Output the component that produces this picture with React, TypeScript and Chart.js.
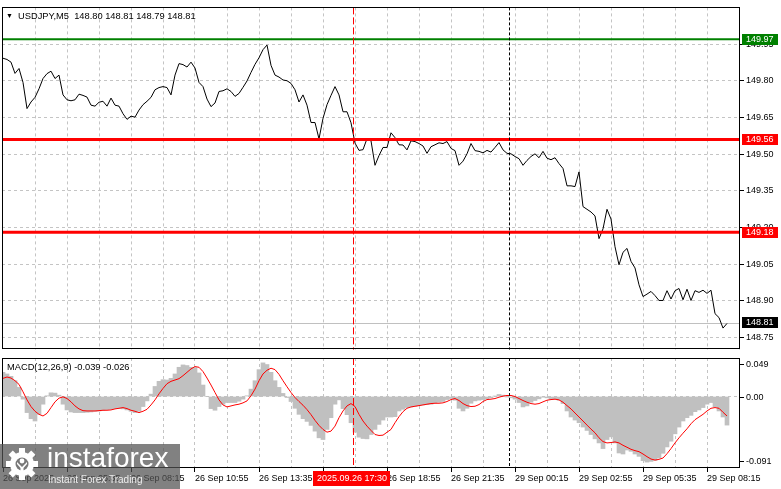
import React, { useEffect, useRef } from "react";
import { Chart, registerables } from "chart.js";

Chart.register(...registerables);

// ---------------- data ----------------
const symbolTitle = "USDJPY,M5  148.80 148.81 148.79 148.81";
const macdTitle = "MACD(12,26,9) -0.039 -0.026";

// one value every 2 bars (10 minutes); index 0 = first visible bar
const price: number[] = [
  149.892, 149.887, 149.876, 149.83, 149.85, 149.793, 149.686, 149.713, 149.732, 149.767,
  149.809, 149.829, 149.839, 149.809, 149.823, 149.742, 149.722, 149.718, 149.722, 149.745,
  149.74, 149.733, 149.7, 149.696, 149.712, 149.716, 149.696, 149.729, 149.7, 149.696,
  149.665, 149.642, 149.655, 149.651, 149.68, 149.702, 149.716, 149.732, 149.763, 149.772,
  149.776, 149.772, 149.742, 149.823, 149.87, 149.866, 149.856, 149.876, 149.852, 149.793,
  149.776, 149.725, 149.694, 149.709, 149.756, 149.759, 149.767, 149.756, 149.736, 149.748,
  149.773, 149.799, 149.834, 149.867, 149.894, 149.927, 149.946, 149.863, 149.823, 149.815,
  149.803, 149.8, 149.789, 149.763, 149.713, 149.742, 149.7, 149.629, 149.629, 149.562,
  149.646, 149.702, 149.74, 149.776, 149.742, 149.673, 149.673, 149.628, 149.545, 149.515,
  149.518, 149.563, 149.554, 149.454, 149.494, 149.527, 149.527, 149.587, 149.567, 149.538,
  149.537, 149.517, 149.554, 149.551, 149.543, 149.533, 149.503, 149.53, 149.538, 149.546,
  149.543, 149.551, 149.523, 149.514, 149.454, 149.471, 149.501, 149.543, 149.514, 149.511,
  149.505, 149.515, 149.508, 149.527, 149.547, 149.517, 149.503, 149.501, 149.49, 149.481,
  149.454, 149.474, 149.49, 149.501, 149.485, 149.511, 149.483, 149.477, 149.485, 149.461,
  149.441, 149.37, 149.37, 149.367, 149.427, 149.285, 149.274, 149.263, 149.247, 149.154,
  149.194, 149.274, 149.234, 149.121, 149.047, 149.098, 149.114, 149.061, 149.034, 148.965,
  148.917, 148.927, 148.938, 148.921, 148.901, 148.901, 148.941, 148.907, 148.941, 148.95,
  148.904, 148.947, 148.901, 148.941, 148.934, 148.943, 148.93, 148.943, 148.847, 148.831,
  148.788, 148.807,
];

const macdMain: number[] = [
  0.0308, 0.0287, 0.0257, 0.0201, 0.0116, -0.0034, -0.0205, -0.0282, -0.0312, -0.0227,
  -0.0098, 0.0009, 0.0047, 0.0043, 0.0017, -0.0098, -0.0171, -0.0197, -0.0205, -0.0205,
  -0.0205, -0.0201, -0.0197, -0.0188, -0.0184, -0.0175, -0.0167, -0.0163, -0.0154, -0.015,
  -0.0158, -0.0171, -0.0188, -0.0205, -0.0188, -0.0128, -0.0056, 0.003, 0.0128, 0.0193,
  0.0214, 0.021, 0.0231, 0.0287, 0.0372, 0.0402, 0.0394, 0.0372, 0.0368, 0.03,
  0.0146, 0.0, -0.0154, -0.0175, -0.0128, -0.0098, -0.0077, -0.0077, -0.0077, -0.006,
  -0.0034, 0.0009, 0.0094, 0.0201, 0.0342, 0.0428, 0.0407, 0.0308, 0.0201, 0.0116,
  0.0039, -0.0013, -0.0064, -0.015, -0.0227, -0.0282, -0.0317, -0.0368, -0.0441, -0.0526,
  -0.0548, -0.0419, -0.027, -0.0098, -0.0043, -0.0154, -0.0231, -0.0334, -0.0454, -0.0518,
  -0.0535, -0.0539, -0.0484, -0.0419, -0.0355, -0.03, -0.0261, -0.0261, -0.0257, -0.0184,
  -0.0163, -0.0141, -0.0133, -0.0124, -0.0116, -0.0107, -0.0103, -0.0098, -0.0081, -0.0073,
  -0.0064, -0.0039, -0.0026, -0.0047, -0.015, -0.0184, -0.015, -0.0086, -0.0056, -0.0047,
  -0.0039, -0.003, -0.0017, 0.0004, 0.0026, 0.0017, -0.0004, -0.0017, -0.0034, -0.0077,
  -0.0133, -0.012, -0.0073, -0.0051, -0.003, -0.0009, -0.0017, -0.0034, -0.0034, -0.0047,
  -0.009, -0.0184, -0.0261, -0.03, -0.0334, -0.0389, -0.0432, -0.0484, -0.0539, -0.0591,
  -0.0663, -0.0548, -0.0514, -0.0591, -0.0719, -0.0732, -0.0681, -0.0698, -0.0732, -0.0762,
  -0.0817, -0.0835, -0.0826, -0.0813, -0.0783, -0.0723, -0.0642, -0.0569, -0.0475, -0.0389,
  -0.0312, -0.027, -0.024, -0.0193, -0.0171, -0.0141, -0.0098, -0.0077, -0.0133, -0.0184,
  -0.0261, -0.0364,
];

const macdSignal: number[] = [
  0.0231, 0.0248, 0.0235, 0.0201, 0.0154, 0.006, -0.0043, -0.0128, -0.0188, -0.0227,
  -0.0248, -0.0214, -0.0141, -0.0068, -0.0021, -0.0004, -0.0026, -0.0068, -0.012, -0.0158,
  -0.018, -0.0184, -0.0184, -0.0184, -0.018, -0.0175, -0.0175, -0.0171, -0.0158, -0.015,
  -0.0141, -0.0154, -0.0175, -0.0188, -0.0205, -0.0188, -0.0163, -0.0107, -0.0043, 0.0034,
  0.0103, 0.0163, 0.0193, 0.021, 0.0227, 0.0265, 0.0308, 0.0351, 0.0381, 0.0372,
  0.0317, 0.0235, 0.0146, 0.0051, -0.0043, -0.0107, -0.0133, -0.012, -0.0107, -0.0098,
  -0.0081, -0.0056, 0.0009, 0.0094, 0.0201, 0.0287, 0.0334, 0.036, 0.0342, 0.0282,
  0.0201, 0.0124, 0.0051, -0.0013, -0.0064, -0.0111, -0.0167, -0.0231, -0.0304, -0.0368,
  -0.0419, -0.0454, -0.0441, -0.0377, -0.027, -0.0184, -0.012, -0.009, -0.0128, -0.0227,
  -0.0312, -0.0377, -0.0432, -0.0484, -0.0496, -0.0492, -0.0455, -0.0419, -0.0334, -0.0257,
  -0.0193, -0.015, -0.0133, -0.0124, -0.0116, -0.0107, -0.0098, -0.009, -0.0086, -0.0086,
  -0.0081, -0.0064, -0.0039, -0.0026, -0.0051, -0.009, -0.0116, -0.0128, -0.0124, -0.0103,
  -0.0064, -0.0039, -0.0034, -0.0026, -0.0009, 0.0004, 0.0013, 0.0013, 0.0, -0.0026,
  -0.0051, -0.0073, -0.009, -0.0098, -0.009, -0.0068, -0.0047, -0.0039, -0.0034, -0.0043,
  -0.0073, -0.0116, -0.0158, -0.021, -0.0261, -0.0312, -0.0364, -0.0415, -0.0462, -0.0526,
  -0.0574, -0.0591, -0.0586, -0.0578, -0.0591, -0.0621, -0.0646, -0.0672, -0.0689, -0.0702,
  -0.0732, -0.0766, -0.0796, -0.0809, -0.08, -0.0783, -0.0728, -0.0663, -0.0591, -0.0526,
  -0.0467, -0.0411, -0.0347, -0.0295, -0.0261, -0.0227, -0.0184, -0.015, -0.0141, -0.015,
  -0.0201, -0.0248,
];

const timeLabels: string[] = [
  "26 Sep 2025", "26 Sep 05:35", "26 Sep 08:15", "26 Sep 10:55", "26 Sep 13:35", "26 Sep 16:15",
  "26 Sep 18:55", "26 Sep 21:35", "29 Sep 00:15", "29 Sep 02:55", "29 Sep 05:35", "29 Sep 08:15",
];
const labelEvery = 16; // data indices between time labels
const gridEvery = 8; // data indices between vertical grid lines

const priceTicks: number[] = [149.95, 149.8, 149.65, 149.5, 149.35, 149.2, 149.05, 148.9, 148.75];
const priceMin = 148.7;
const priceMax = 150.1;
const macdTicks: number[] = [0.049, 0.0, -0.091];
const macdMin = -0.091;
const macdMax = 0.049;

const levelValues: number[] = [149.97, 149.56, 149.18];
const currentPrice = 148.81;
const crosshairIndex = 87.5;
const crosshairLabel = "2025.09.26 17:30";
const separatorIndex = 126.5;
const xMin = -0.25;
const xMax = 184.25;

// ---------------- styles ----------------
const FONT = '"Liberation Sans", Arial, sans-serif';
const GRID = "#c4c4c4";
const levelColors = ["#008000", "#ff0000", "#ff0000"];
const levelWidths = [2, 3, 3];

const xTickValues: number[] = [];
for (let v = 0; v <= xMax; v += gridEvery) xTickValues.push(v);

function drawVLines(chart: any) {
  const { ctx, chartArea: a, scales } = chart;
  const xs = scales.x;
  ctx.save();
  ctx.lineWidth = 1;
  const cx = Math.round(xs.getPixelForValue(crosshairIndex)) + 0.5;
  ctx.strokeStyle = "#ff0000";
  ctx.setLineDash([7, 3]);
  ctx.beginPath();
  ctx.moveTo(cx, a.top);
  ctx.lineTo(cx, a.bottom);
  ctx.stroke();
  const sx = Math.round(xs.getPixelForValue(separatorIndex)) + 0.5;
  ctx.strokeStyle = "#000";
  ctx.setLineDash([3, 2]);
  ctx.beginPath();
  ctx.moveTo(sx, a.top);
  ctx.lineTo(sx, a.bottom);
  ctx.stroke();
  ctx.restore();
}

function drawFrame(chart: any) {
  const { ctx, chartArea: a } = chart;
  ctx.save();
  ctx.strokeStyle = "#000";
  ctx.lineWidth = 1;
  ctx.setLineDash([]);
  ctx.strokeRect(Math.round(a.left) + 0.5, Math.round(a.top) + 0.5, Math.round(a.right - a.left) - 1, Math.round(a.bottom - a.top) - 1);
  ctx.restore();
}

function drawTag(ctx: CanvasRenderingContext2D, x0: number, y: number, text: string, bg: string) {
  const h = 11;
  const w = 36;
  const top = Math.round(y - h / 2);
  ctx.fillStyle = bg;
  ctx.fillRect(x0, top, w, h);
  ctx.fillStyle = "#fff";
  ctx.font = `9px ${FONT}`;
  ctx.textBaseline = "middle";
  ctx.textAlign = "left";
  ctx.fillText(text, x0 + 4, top + h / 2 + 0.5);
}

const mainOverlay = {
  id: "mainOverlay",
  beforeDatasetsDraw(chart: any) {
    const { ctx, chartArea: a, scales } = chart;
    const py = Math.round(scales.y.getPixelForValue(currentPrice)) + 0.5;
    ctx.save();
    ctx.strokeStyle = "#c0c0c0";
    ctx.lineWidth = 1;
    ctx.beginPath();
    ctx.moveTo(a.left, py);
    ctx.lineTo(a.right, py);
    ctx.stroke();
    ctx.restore();
  },
  afterDatasetsDraw(chart: any) {
    const { ctx, chartArea: a, scales } = chart;
    ctx.save();
    levelValues.forEach((v, k) => {
      const py = scales.y.getPixelForValue(v);
      ctx.strokeStyle = levelColors[k];
      ctx.lineWidth = levelWidths[k];
      ctx.beginPath();
      ctx.moveTo(a.left, py);
      ctx.lineTo(a.right, py);
      ctx.stroke();
    });
    ctx.restore();
    drawVLines(chart);
  },
  afterDraw(chart: any) {
    const { ctx, chartArea: a, scales } = chart;
    drawFrame(chart);
    ctx.save();
    levelValues.forEach((v, k) => {
      drawTag(ctx, a.right + 2, scales.y.getPixelForValue(v), v.toFixed(2), levelColors[k]);
    });
    drawTag(ctx, a.right + 2, scales.y.getPixelForValue(currentPrice), currentPrice.toFixed(2), "#000");
    ctx.fillStyle = "#000";
    ctx.textBaseline = "middle";
    ctx.textAlign = "left";
    ctx.font = `7px ${FONT}`;
    ctx.fillText("▼", a.left + 4, a.top + 9);
    ctx.font = `9.3px ${FONT}`;
    ctx.fillText(symbolTitle, a.left + 16, a.top + 9);
    ctx.restore();
  },
};

const macdOverlay = {
  id: "macdOverlay",
  afterDatasetsDraw(chart: any) {
    drawVLines(chart);
  },
  afterDraw(chart: any) {
    const { ctx, chartArea: a, scales } = chart;
    drawFrame(chart);
    ctx.save();
    ctx.font = `9px ${FONT}`;
    ctx.fillStyle = "#000";
    ctx.strokeStyle = "#000";
    ctx.lineWidth = 1;
    ctx.textBaseline = "middle";
    ctx.textAlign = "left";
    macdTicks.forEach((v) => {
      const py = scales.y.getPixelForValue(v);
      const ly = Math.round(Math.min(Math.max(py, a.top + 6), a.bottom - 7)) + 0.5;
      ctx.beginPath();
      ctx.moveTo(a.right, ly);
      ctx.lineTo(a.right + 4, ly);
      ctx.stroke();
      ctx.fillText(v === 0 ? "0.00" : v.toFixed(3), a.right + 6, ly);
    });
    ctx.font = `9.3px ${FONT}`;
    ctx.fillText(macdTitle, a.left + 5, a.top + 9);
    // crosshair time tag
    const cx = scales.x.getPixelForValue(crosshairIndex);
    ctx.fillStyle = "#ff0000";
    ctx.fillRect(Math.round(cx - 40), a.bottom + 3, 77, 15);
    ctx.fillStyle = "#fff";
    ctx.textAlign = "center";
    ctx.font = `9px ${FONT}`;
    ctx.fillText(crosshairLabel, cx - 1, a.bottom + 11);
    ctx.restore();
  },
};

function makeXScale(showLabels: boolean) {
  return {
    type: "linear",
    min: xMin,
    max: xMax,
    offset: false,
    afterBuildTicks: (s: any) => {
      s.ticks = xTickValues.map((v) => ({ value: v }));
    },
    afterFit: (s: any) => {
      s.height = showLabels ? 21 : 0;
    },
    ticks: showLabels
      ? {
          display: true,
          autoSkip: false,
          maxRotation: 0,
          minRotation: 0,
          align: "start",
          padding: 1,
          color: "#000",
          font: { family: FONT, size: 9 },
          callback: (v: number) => (v % labelEvery === 0 ? timeLabels[v / labelEvery] : ""),
        }
      : { display: false },
    grid: {
      offset: false,
      color: (c: any) => (c.tick && c.tick.value > 0 ? GRID : "transparent"),
      drawTicks: showLabels,
      tickLength: 4,
      tickBorderDash: [],
      tickColor: (c: any) => (c.tick && c.tick.value % labelEvery === 0 ? "#000" : "transparent"),
    },
    border: { display: false, dash: [3, 3] },
  };
}

export default function App() {
  const topRef = useRef<HTMLCanvasElement>(null);
  const botRef = useRef<HTMLCanvasElement>(null);

  useEffect(() => {
    const main = new Chart(topRef.current as HTMLCanvasElement, {
      type: "line",
      data: {
        datasets: [
          {
            data: price.map((y, i) => ({ x: i, y })),
            borderColor: "#000",
            borderWidth: 1,
            pointRadius: 0,
            tension: 0,
            fill: false,
          },
        ],
      },
      options: {
        animation: false,
        responsive: false,
        events: [],
        layout: { padding: { left: 2, top: 2, right: 0, bottom: 1 } },
        plugins: { legend: { display: false }, tooltip: { enabled: false } },
        scales: {
          x: makeXScale(false),
          y: {
            type: "linear",
            position: "right",
            min: priceMin,
            max: priceMax,
            afterBuildTicks: (s: any) => {
              s.ticks = priceTicks.map((v) => ({ value: v }));
            },
            afterFit: (s: any) => {
              s.width = 41;
            },
            ticks: {
              color: "#000",
              padding: 2,
              autoSkip: false,
              font: { family: FONT, size: 9 },
              callback: (v: number) => Number(v).toFixed(2),
            },
            grid: { color: GRID, tickColor: "#000", tickLength: 4, tickBorderDash: [], drawTicks: true },
            border: { display: false, dash: [3, 3] },
          },
        },
      } as any,
      plugins: [mainOverlay],
    } as any);

    const macd = new Chart(botRef.current as HTMLCanvasElement, {
      type: "line",
      data: {
        datasets: [
          {
            type: "line",
            data: macdSignal.map((y, i) => ({ x: i, y })),
            borderColor: "#ff0000",
            borderWidth: 1,
            pointRadius: 0,
            tension: 0,
            fill: false,
            order: 0,
          },
          {
            type: "bar",
            data: macdMain.map((y, i) => ({ x: i, y })),
            backgroundColor: "#c0c0c0",
            borderWidth: 0,
            barThickness: 4,
            order: 1,
          },
        ],
      },
      options: {
        animation: false,
        responsive: false,
        events: [],
        layout: { padding: { left: 2, top: 2, right: 0, bottom: 0 } },
        plugins: { legend: { display: false }, tooltip: { enabled: false } },
        scales: {
          x: makeXScale(true),
          y: {
            type: "linear",
            position: "right",
            min: macdMin,
            max: macdMax,
            afterBuildTicks: (s: any) => {
              s.ticks = macdTicks.map((v) => ({ value: v }));
            },
            afterFit: (s: any) => {
              s.width = 41;
            },
            ticks: { display: false },
            grid: {
              color: (c: any) => (c.tick && c.tick.value === 0 ? GRID : "transparent"),
              drawTicks: false,
            },
            border: { display: false, dash: [3, 3] },
          },
        },
      } as any,
      plugins: [macdOverlay],
    } as any);

    return () => {
      main.destroy();
      macd.destroy();
    };
  }, []);

  return (
    <div
      style={{
        position: "fixed",
        left: 0,
        top: 0,
        width: 781,
        height: 489,
        background: "#fff",
        overflow: "hidden",
      }}
    >
      <canvas
        ref={topRef}
        width={781}
        height={357}
        style={{ position: "absolute", left: 0, top: 0, width: 781, height: 357 }}
      />
      <canvas
        ref={botRef}
        width={781}
        height={133}
        style={{ position: "absolute", left: 0, top: 356, width: 781, height: 133 }}
      />
      <div
        style={{
          position: "absolute",
          left: 0,
          top: 444,
          width: 180,
          height: 45,
          background: "rgba(82,82,82,0.73)",
          fontFamily: FONT,
          color: "#fff",
        }}
      >
        <svg width={46} height={45} style={{ position: "absolute", left: 0, top: 0 }}>
          <g transform="translate(22,20)" fill="#fff">
            {[0, 45, 90, 135, 180, 225, 270, 315].map((r) => (
              <rect key={r} x={-3} y={-16} width={6} height={7} transform={`rotate(${r})`} />
            ))}
            <circle r={12} />
            <circle r={6.5} fill="rgb(120,120,120)" />
            <circle cy={-3} r={2.4} fill="#fff" />
            <path d="M -5 -2 L 0 3 L 5 -2 L 5 0 L 1.5 4 L 1.5 12 L -1.5 12 L -1.5 4 L -5 0 Z" fill="#fff" />
          </g>
        </svg>
        <span
          style={{
            position: "absolute",
            left: 47,
            top: 0,
            fontSize: 28,
            lineHeight: "28px",
            whiteSpace: "nowrap",
          }}
        >
          instaforex
        </span>
        <span
          style={{
            position: "absolute",
            left: 48,
            top: 31,
            fontSize: 10,
            lineHeight: "10px",
            whiteSpace: "nowrap",
            color: "#eeeeee",
          }}
        >
          Instant Forex Trading
        </span>
      </div>
    </div>
  );
}
